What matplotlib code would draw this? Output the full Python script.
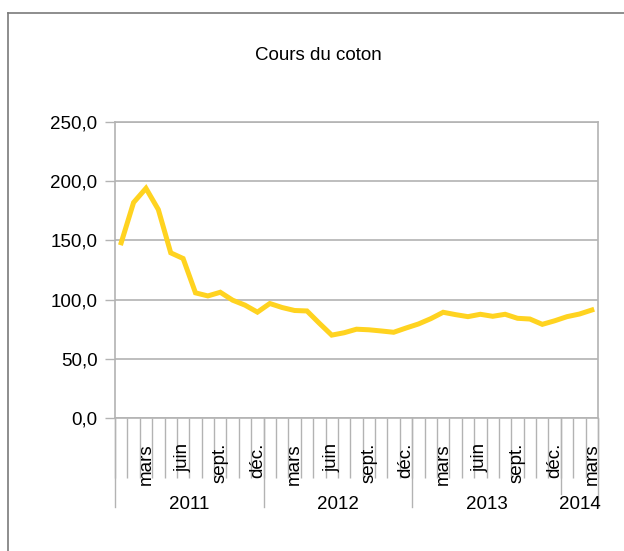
import numpy as np
import matplotlib as mpl
mpl.use('Agg')
import matplotlib.pyplot as plt
from matplotlib.lines import Line2D

plt.rcParams['font.family'] = ['Liberation Sans', 'DejaVu Sans']

# monthly cotton price, janv. 2011 -> mars 2014
cours = [148, 182, 194, 176, 139.5, 134.7, 105.7, 103.1, 106.2, 99.5,
         95.3, 89.4, 96.7, 93.3, 90.8, 90.4, 80, 70, 72, 75,
         74.5, 73.5, 72.4, 76, 79.4, 83.9, 89.3, 87.3, 85.6, 87.6,
         85.9, 87.6, 84.2, 83.6, 79.1, 82.1, 85.6, 87.8, 91.2]
month_labels = ['mars', 'juin', 'sept.', 'déc.'] * 3 + ['mars']
years = ['2011', '2012', '2013', '2014']
year_starts = [0, 12, 24, 36]

GRAY = '#b3b3b3'
YELLOW = '#ffd320'

fig = plt.figure(figsize=(6.24, 5.51), dpi=100)
W, H = 624, 551
ax = fig.add_axes([115 / W, 1 - 418 / H, 483 / W, 296 / H])

n = len(cours)
x = np.arange(n) + 0.5
ax.plot(x, cours, color=YELLOW, lw=3.6, solid_joinstyle='miter', clip_on=False, zorder=3)

ax.set_xlim(0, n)
ax.set_ylim(0, 250)
ax.set_yticks(np.arange(0, 251, 50))
ax.set_yticklabels([('%.1f' % v).replace('.', ',') for v in np.arange(0, 251, 50)])
ax.yaxis.grid(True, color=GRAY, lw=1.2)
ax.set_axisbelow(True)
ax.tick_params(axis='y', length=7.2, width=1, color=GRAY, pad=5.5, labelsize=13.5)

# category boundaries as ticks, month names as minor tick labels
ax.set_xticks(np.arange(0, n + 1))
ax.set_xticklabels([])
ax.tick_params(axis='x', which='major', length=43.2, width=1, color=GRAY)
ax.set_xticks(np.arange(2, n, 3) + 0.5, minor=True)
ax.set_xticklabels(month_labels, minor=True, rotation=90, fontsize=13.5)
ax.tick_params(axis='x', which='minor', length=0, pad=18)

for s in ax.spines.values():
    s.set_color(GRAY)
    s.set_linewidth(1.2)

# year separators and labels
trans = ax.get_xaxis_transform()
bounds = year_starts + [n]
for b in bounds:
    low = -0.257 if b == 36 else -0.301
    ax.plot([b, b], [0, low], color=GRAY, lw=1, transform=trans, clip_on=False)
for i, yr in enumerate(years):
    xc = (bounds[i] + bounds[i + 1]) / 2
    ax.text(xc, -0.307, yr, transform=trans, ha='center', va='baseline', fontsize=13.5)

fig.text(318 / W, 1 - 56 / H, 'Cours du coton', ha='center', va='center', fontsize=13.5)

# outer frame
fig.add_artist(Line2D([7.5 / W, 7.5 / W], [0, 1 - 13 / H], color='#7a7a7a', lw=1.2,
                      transform=fig.transFigure))
fig.add_artist(Line2D([7.5 / W, 1], [1 - 13 / H, 1 - 13 / H], color='#7a7a7a', lw=1.2,
                      transform=fig.transFigure))

fig.savefig('out.png', dpi=100)
